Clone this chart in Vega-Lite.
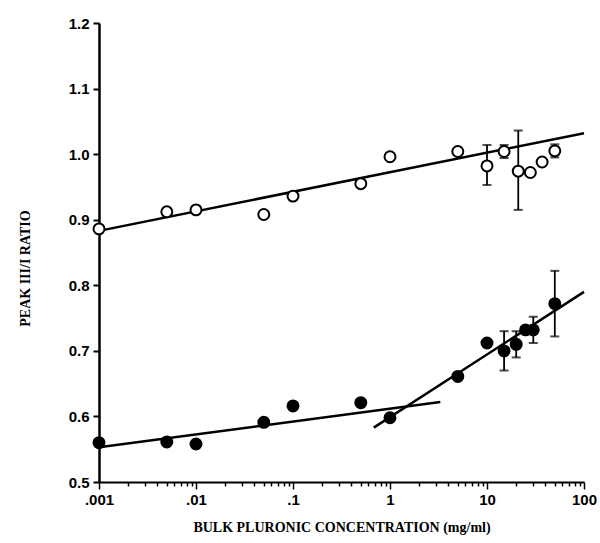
{
  "$schema": "https://vega.github.io/schema/vega-lite/v6.json",
  "width": 485,
  "height": 459,
  "autosize": {"type": "none"},
  "padding": {"left": 99, "top": 23, "right": 16, "bottom": 61},
  "background": "white",
  "config": {
    "view": {"stroke": null},
    "axis": {"grid": false, "domainColor": "black", "tickColor": "black", "labelColor": "black", "titleColor": "black"}
  },
  "datasets": {
    "points": [
      {"series": "open", "conc": 0.001, "ratio": 0.886},
      {"series": "open", "conc": 0.005, "ratio": 0.912},
      {"series": "open", "conc": 0.01, "ratio": 0.915},
      {"series": "open", "conc": 0.05, "ratio": 0.908},
      {"series": "open", "conc": 0.1, "ratio": 0.936},
      {"series": "open", "conc": 0.5, "ratio": 0.955},
      {"series": "open", "conc": 1, "ratio": 0.996},
      {"series": "open", "conc": 5, "ratio": 1.004},
      {"series": "open", "conc": 10, "ratio": 0.982, "lo": 0.953, "hi": 1.014},
      {"series": "open", "conc": 15, "ratio": 1.004, "lo": 0.994, "hi": 1.014},
      {"series": "open", "conc": 21, "ratio": 0.974, "lo": 0.915, "hi": 1.036},
      {"series": "open", "conc": 28, "ratio": 0.972},
      {"series": "open", "conc": 37, "ratio": 0.988},
      {"series": "open", "conc": 50, "ratio": 1.005, "lo": 0.995, "hi": 1.015},
      {"series": "filled", "conc": 0.001, "ratio": 0.56},
      {"series": "filled", "conc": 0.005, "ratio": 0.561},
      {"series": "filled", "conc": 0.01, "ratio": 0.558},
      {"series": "filled", "conc": 0.05, "ratio": 0.591},
      {"series": "filled", "conc": 0.1, "ratio": 0.616},
      {"series": "filled", "conc": 0.5, "ratio": 0.621},
      {"series": "filled", "conc": 1, "ratio": 0.598},
      {"series": "filled", "conc": 5, "ratio": 0.661},
      {"series": "filled", "conc": 10, "ratio": 0.712},
      {"series": "filled", "conc": 15, "ratio": 0.7, "lo": 0.67, "hi": 0.73},
      {"series": "filled", "conc": 20, "ratio": 0.71, "lo": 0.69, "hi": 0.73},
      {"series": "filled", "conc": 25, "ratio": 0.732},
      {"series": "filled", "conc": 30, "ratio": 0.732, "lo": 0.712, "hi": 0.752},
      {"series": "filled", "conc": 50, "ratio": 0.772, "lo": 0.722, "hi": 0.822}
    ],
    "fits": [
      {"fit": "upper", "conc": 0.001, "ratio": 0.883},
      {"fit": "upper", "conc": 100, "ratio": 1.032},
      {"fit": "lowflat", "conc": 0.001, "ratio": 0.553},
      {"fit": "lowflat", "conc": 3.3, "ratio": 0.622},
      {"fit": "steep", "conc": 0.68, "ratio": 0.583},
      {"fit": "steep", "conc": 100, "ratio": 0.79}
    ]
  },
  "layer": [
    {
      "data": {"name": "fits"},
      "mark": {"type": "line", "color": "black", "strokeWidth": 2.5, "clip": false},
      "encoding": {
        "x": {
          "field": "conc", "type": "quantitative",
          "scale": {"type": "log", "domain": [0.001, 100], "nice": false},
          "axis": {
            "title": "BULK PLURONIC CONCENTRATION (mg/ml)",
            "values": [0.001, 0.002, 0.003, 0.004, 0.005, 0.006, 0.007, 0.008, 0.009, 0.01, 0.02, 0.03, 0.04, 0.05, 0.06, 0.07, 0.08, 0.09, 0.1, 0.2, 0.3, 0.4, 0.5, 0.6, 0.7, 0.8, 0.9, 1, 2, 3, 4, 5, 6, 7, 8, 9, 10, 20, 30, 40, 50, 60, 70, 80, 90, 100],
            "labelExpr": "datum.value === 0.001 ? '.001' : datum.value === 0.01 ? '.01' : datum.value === 0.1 ? '.1' : datum.value === 1 ? '1' : datum.value === 10 ? '10' : datum.value === 100 ? '100' : ''",
            "tickSize": {"condition": {"test": "indexof([0.001, 0.01, 0.1, 1, 10, 100], datum.value) >= 0", "value": 7}, "value": 4},
            "tickWidth": 1.5,
            "domainWidth": 2,
            "labelFont": "Liberation Sans", "labelFontWeight": "bold", "labelFontSize": 15,
            "labelPadding": 3, "labelOverlap": false, "labelFlush": false,
            "titleFont": "Liberation Serif", "titleFontWeight": "bold", "titleFontSize": 14,
            "titleY": 45, "titleBaseline": "middle"
          }
        },
        "y": {
          "field": "ratio", "type": "quantitative",
          "scale": {"domain": [0.5, 1.2], "nice": false, "zero": false},
          "axis": {
            "title": "PEAK III/I RATIO",
            "values": [0.5, 0.55, 0.6, 0.65, 0.7, 0.75, 0.8, 0.85, 0.9, 0.95, 1.0, 1.05, 1.1, 1.15, 1.2],
            "labelExpr": "round(datum.value * 100) % 10 == 0 ? format(datum.value, '.1f') : ''",
            "tickSize": {"condition": {"test": "round(datum.value * 100) % 10 == 0", "value": 6}, "value": 4},
            "tickWidth": 2,
            "domainWidth": 2.5,
            "labelFont": "Liberation Sans", "labelFontWeight": "bold", "labelFontSize": 15,
            "labelPadding": 4, "labelOverlap": false, "labelFlush": false,
            "titleFont": "Liberation Serif", "titleFontWeight": "bold", "titleFontSize": 14,
            "titleX": -74, "titleY": 245, "titleBaseline": "middle"
          }
        },
        "detail": {"field": "fit"}
      }
    },
    {
      "data": {"name": "points"},
      "transform": [{"filter": "isValid(datum.lo)"}],
      "mark": {"type": "rule", "color": "black", "strokeWidth": 1.8},
      "encoding": {
        "x": {"field": "conc", "type": "quantitative"},
        "y": {"field": "lo", "type": "quantitative", "title": "PEAK III/I RATIO"},
        "y2": {"field": "hi"}
      }
    },
    {
      "data": {"name": "points"},
      "transform": [{"filter": "isValid(datum.lo)"}, {"fold": ["lo", "hi"], "as": ["end", "val"]}],
      "mark": {"type": "tick", "color": "black", "orient": "horizontal", "size": 9, "thickness": 2},
      "encoding": {
        "x": {"field": "conc", "type": "quantitative"},
        "y": {"field": "val", "type": "quantitative", "title": "PEAK III/I RATIO"}
      }
    },
    {
      "data": {"name": "points"},
      "mark": {"type": "point", "shape": "circle", "filled": true, "size": 120, "stroke": "black", "strokeWidth": 2, "opacity": 1, "clip": false},
      "encoding": {
        "x": {"field": "conc", "type": "quantitative"},
        "y": {"field": "ratio", "type": "quantitative", "title": "PEAK III/I RATIO"},
        "fill": {"field": "series", "type": "nominal", "scale": {"domain": ["open", "filled"], "range": ["white", "black"]}, "legend": null}
      }
    }
  ]
}
